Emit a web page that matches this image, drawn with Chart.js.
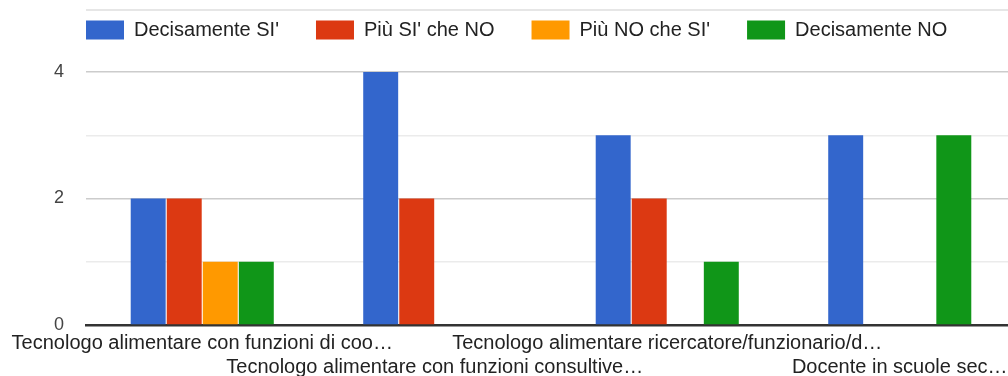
<!DOCTYPE html>
<html>
<head>
<meta charset="utf-8">
<script src="https://cdn.jsdelivr.net/npm/chart.js@4"></script>
<style>
  html, body { margin: 0; padding: 0; background: #fff; overflow: hidden; }
  #wrap { width: 1016px; height: 376px; position: relative; }
</style>
</head>
<body>
<div id="wrap"><canvas id="grafico"></canvas></div>
<script>
// categorie (etichette asse x, troncate come nell'originale)
const categorie = [
    "Tecnologo alimentare con funzioni di coo…",
    "Tecnologo alimentare con funzioni consultive…",
    "Tecnologo alimentare ricercatore/funzionario/d…",
    "Docente in scuole sec…"
];

const serie = ["Decisamente SI'", "Più SI' che NO", "Più NO che SI'", "Decisamente NO"];
const cores = ["#3366cc", "#dc3912", "#ff9900", "#109618"];

const decisamenteSi = [2, 4, 3, 3];
const piuSiCheNo = [2, 2, 2, 0];
const piuNoCheSi = [1, 0, 0, 0];
const decisamenteNo = [1, 0, 1, 3];

const valori = [decisamenteSi, piuSiCheNo, piuNoCheSi, decisamenteNo];

// le etichette dispari vanno sulla seconda riga
const etichette = categorie.map((c, i) => i % 2 === 1 ? ["", c] : c);

const fonte = "Arial, 'Liberation Sans', sans-serif";

// sposta la legenda dove sta nel grafico originale + riga grigia in alto
const ritocchi = {
    id: "ritocchi",
    afterLayout(chart) {
        chart.legend.left = 49;
        chart.legend.top = -17;
    },
    beforeDraw(chart) {
        const ctx = chart.ctx;
        ctx.save();
        ctx.strokeStyle = "#e6e6e6";
        ctx.lineWidth = 2;
        ctx.beginPath();
        ctx.moveTo(chart.chartArea.left, 10);
        ctx.lineTo(chart.width, 10);
        ctx.stroke();
        ctx.restore();
    }
};

const datasets = serie.map((nome, i) => ({
    label: nome,
    data: valori[i],
    backgroundColor: cores[i],
    borderWidth: 0,
    categoryPercentage: 0.62,
    barPercentage: 0.97
}));

new Chart(document.getElementById("grafico").getContext("2d"), {
    type: "bar",
    data: { labels: etichette, datasets },
    plugins: [ritocchi],
    options: {
        responsive: true,
        maintainAspectRatio: false,
        animation: false,
        layout: { padding: { top: 5 } },
        plugins: {
            legend: {
                align: "start",
                labels: {
                    boxWidth: 38,
                    boxHeight: 19,
                    padding: 37,
                    color: "#222",
                    font: { family: fonte, size: 20 }
                }
            },
            tooltip: { enabled: false }
        },
        scales: {
            x: {
                grid: { display: false, drawTicks: false },
                border: { color: "#333", width: 2.5 },
                ticks: {
                    autoSkip: false,
                    maxRotation: 0,
                    padding: 6,
                    color: "#222",
                    font: { family: fonte, size: 20, lineHeight: "24px" }
                },
                afterFit: s => {
                    s.height = 51;
                    s.paddingLeft = 0;
                    s.paddingRight = 0;
                }
            },
            y: {
                min: 0,
                max: 4,
                border: { display: false },
                grid: {
                    drawTicks: false,
                    lineWidth: 1.5,
                    color: c => c.tick.value === 0 ? "rgba(0,0,0,0)" : (c.tick.value % 2 === 0 ? "#cccccc" : "#ebebeb")
                },
                ticks: {
                    stepSize: 1,
                    padding: 22,
                    color: "#444",
                    font: { family: fonte, size: 18 },
                    callback: v => v % 2 === 0 ? v : ""
                },
                afterFit: s => { s.width = 86; }
            }
        }
    }
});
</script>
</body>
</html>
